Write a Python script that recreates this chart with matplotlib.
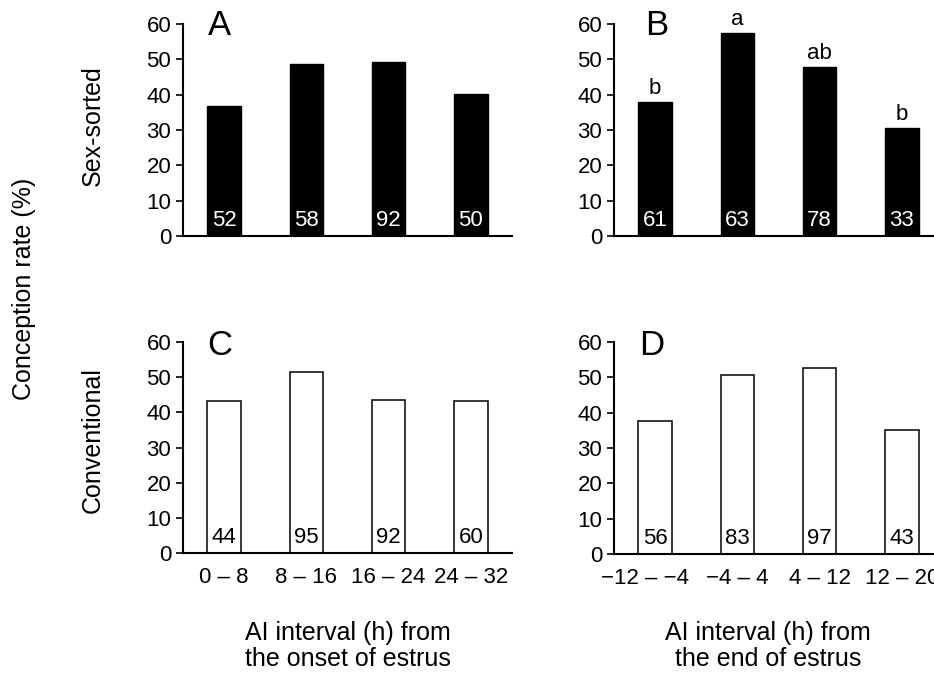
import matplotlib
matplotlib.use('Agg')
from matplotlib import pyplot as plt
from matplotlib.transforms import ScaledTranslation

plt.rcParams['font.family'] = ['Liberation Sans', 'DejaVu Sans']

onset_labels = ['0 – 8', '8 – 16', '16 – 24', '24 – 32']
end_labels = ['−12 – −4', '−4 – 4', '4 – 12', '12 – 20']

sorted_onset = [36.8, 48.6, 49.2, 40.2]
sorted_onset_n = [52, 58, 92, 50]
sorted_end = [38.0, 57.4, 47.8, 30.7]
sorted_end_n = [61, 63, 78, 33]
sorted_end_sig = ['b', 'a', 'ab', 'b']

conv_onset = [43.1, 51.5, 43.4, 43.2]
conv_onset_n = [44, 95, 92, 60]
conv_end = [37.6, 50.6, 52.6, 35.0]
conv_end_n = [56, 83, 97, 43]

fig = plt.figure(figsize=(9.34, 6.75), dpi=100)

W = 329 / 934
H = 212 / 675
axA = fig.add_axes([183 / 934, 1 - 236 / 675, W, H])
axB = fig.add_axes([614 / 934, 1 - 236 / 675, W, H])
axC = fig.add_axes([183 / 934, 1 - 553 / 675, W, 211 / 675])
axD = fig.add_axes([614 / 934, 1 - 554 / 675, W, 212 / 675])


def panel(ax, vals, ns, labels, filled, letter, lx, ly, sig=None):
    x = range(len(vals))
    if filled:
        ax.bar(x, vals, width=0.41, color='black', edgecolor='black')
        ncol = 'white'
    else:
        ax.bar(x, vals, width=0.41, color='white', edgecolor='black', linewidth=1.1)
        ncol = 'black'
    for i, n in enumerate(ns):
        ax.text(i, 2.8, str(n), ha='center', va='baseline', fontsize=16, color=ncol)
    if sig:
        for i, s in enumerate(sig):
            ax.text(i, vals[i] + 2.2, s, ha='center', va='baseline', fontsize=16)
    ax.set_xlim(-0.5, 3.5)
    ax.set_ylim(0, 60)
    ax.set_yticks(range(0, 61, 10))
    ax.tick_params(axis='y', labelsize=16, length=5, width=1.2, direction='out')
    ax.tick_params(axis='x', length=0, labelsize=16, pad=10)
    ax.set_xticks(list(x))
    if labels:
        ax.set_xticklabels(labels)
    else:
        ax.set_xticklabels([])
    for s in ['top', 'right']:
        ax.spines[s].set_visible(False)
    for s in ['left', 'bottom']:
        ax.spines[s].set_linewidth(1.5)
    ax.text(lx, ly, letter, transform=ax.transAxes, fontsize=25, va='baseline')


panel(axA, sorted_onset, sorted_onset_n, None, True, 'A', 0.075, 0.948)
panel(axB, sorted_end, sorted_end_n, None, True, 'B', 0.094, 0.948, sorted_end_sig)
panel(axC, conv_onset, conv_onset_n, onset_labels, False, 'C', 0.073, 0.938)
panel(axD, conv_end, conv_end_n, end_labels, False, 'D', 0.076, 0.938)

# first label on D sits a little left of its bar in the original
lab = axD.get_xticklabels()[0]
lab.set_transform(lab.get_transform() + ScaledTranslation(-10 / 100, 0, fig.dpi_scale_trans))

fig.text(93 / 934, 1 - 126 / 675, 'Sex-sorted', rotation=90, ha='center', va='center', fontsize=18)
fig.text(93 / 934, 1 - 440 / 675, 'Conventional', rotation=90, ha='center', va='center', fontsize=18)
fig.text(24 / 934, 1 - 289 / 675, 'Conception rate (%)', rotation=90, ha='center', va='center', fontsize=18)

fig.text(348 / 934, 1 - 646 / 675, 'AI interval (h) from\nthe onset of estrus', ha='center', va='center',
         fontsize=18, linespacing=1.15)
fig.text(768 / 934, 1 - 646 / 675, 'AI interval (h) from\nthe end of estrus', ha='center', va='center',
         fontsize=18, linespacing=1.15)

fig.savefig('out.png', dpi=100)
